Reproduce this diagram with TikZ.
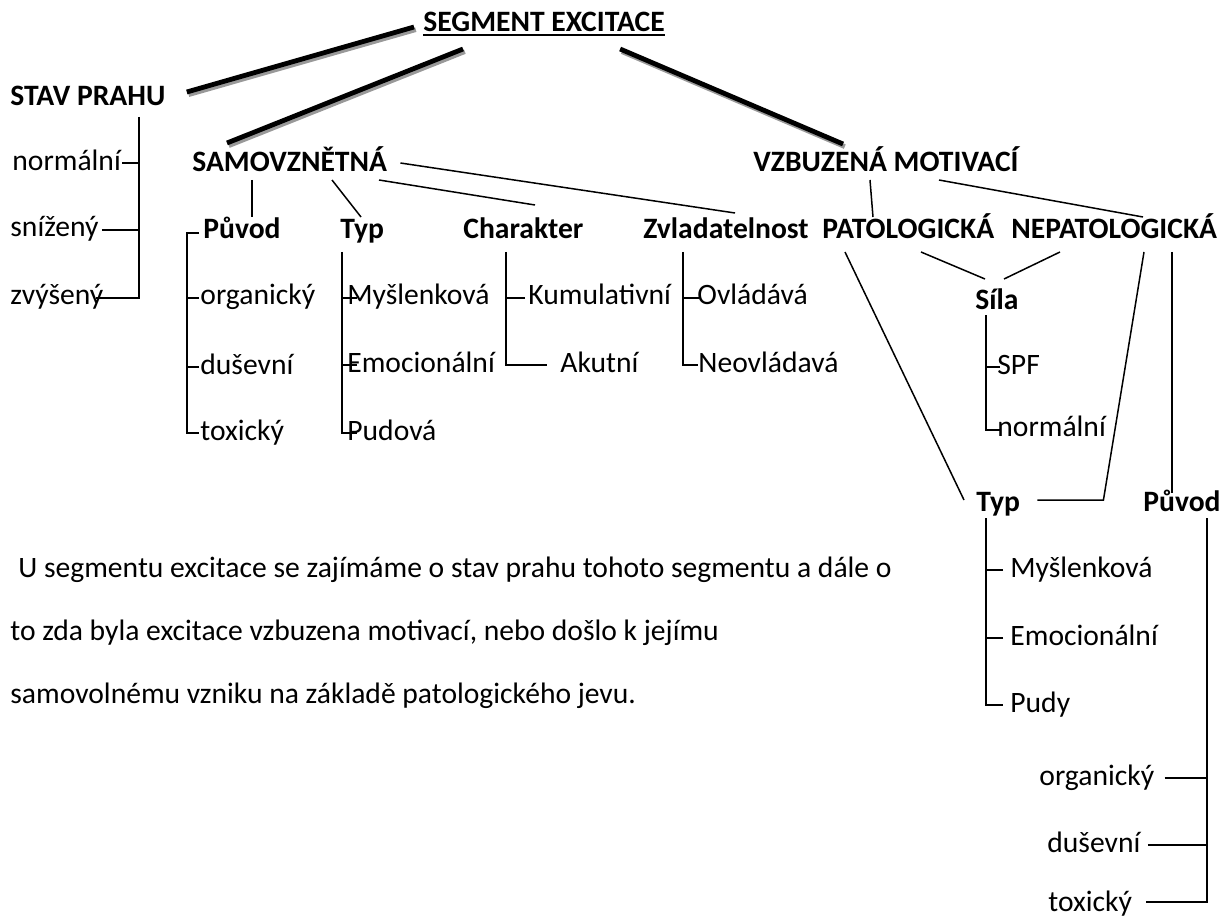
\documentclass[tikz,border=0pt]{standalone}
\usepackage{fontspec}
\setmainfont{Carlito}
\usetikzlibrary{calc}
\tikzset{
  txt/.style={anchor=base west, inner sep=0pt, font=\fontsize{14.8}{17}\selectfont},
  hd/.style={txt, font=\fontsize{14.8}{17}\selectfont\bfseries},
  branch/.style={line width=0.75pt},
  trunk/.style={line width=2.4pt, preaction={draw=black!40, line width=2.4pt, transform canvas={shift={(0.9pt,-1.3pt)}}}}
}
\begin{document}
\begin{tikzpicture}[x=0.5pt, y=-0.5pt]
  \useasboundingbox (0,0) rectangle (1228,920);
  \node[hd] (seg) at (423,32) {SEGMENT EXCITACE};
  \node[hd] (stav) at (10,106) {STAV PRAHU};
  \node[hd] (samo) at (192,172) {SAMOVZNĚTNÁ};
  \node[hd] (vzb) at (753,172) {VZBUZENÁ MOTIVACÍ};
  \node[txt] (norA) at (12,170) {normální};
  \node[txt] (sniA) at (10,237) {snížený};
  \node[txt] (zvyA) at (10,305) {zvýšený};
  \node[hd] (puvA) at (203,239) {Původ};
  \node[hd] (typA) at (340,239) {Typ};
  \node[hd] (charA) at (463,239) {Charakter};
  \node[hd] (zvlA) at (643,239) {Zvladatelnost};
  \node[hd] (patA) at (822,239) {PATOLOGICKÁ};
  \node[hd] (nepA) at (1011,239) {NEPATOLOGICKÁ};
  \node[txt] (orgA) at (200,305) {organický};
  \node[txt] (dusA) at (200,374) {duševní};
  \node[txt] (toxA) at (200,440) {toxický};
  \node[txt] (mysA) at (347,305) {Myšlenková};
  \node[txt] (emoA) at (347,372) {Emocionální};
  \node[txt] (pudA) at (347,440) {Pudová};
  \node[txt] (kumA) at (528,305) {Kumulativní};
  \node[txt] (akuA) at (560,372) {Akutní};
  \node[txt] (ovlA) at (697,305) {Ovládává};
  \node[txt] (neoA) at (698,372) {Neovládavá};
  \node[hd] (sila) at (975,309) {Síla};
  \node[txt] (spfA) at (997,374) {SPF};
  \node[txt] (norB) at (997,437) {normální};
  \node[hd] (typB) at (976,511) {Typ};
  \node[hd] (puvB) at (1143,511) {Původ};
  \node[txt] (mysB) at (1010,577) {Myšlenková};
  \node[txt] (emoB) at (1010,645) {Emocionální};
  \node[txt] (pudB) at (1010,712) {Pudy};
  \node[txt] (orgB) at (1039,785) {organický};
  \node[txt] (dusB) at (1047,852) {duševní};
  \node[txt] (toxB) at (1048,911) {toxický};
  \node[txt] (txt1) at (18,577) {U segmentu excitace se zajímáme o stav prahu tohoto segmentu a dále o};
  \node[txt] (txt2) at (10,640) {to zda byla excitace vzbuzena motivací, nebo došlo k jejímu};
  \node[txt] (txt3) at (10,703) {samovolnému vzniku na základě patologického jevu.};
  \draw[line width=1pt] ($(seg.base west)+(0,3)$) -- ($(seg.base east)+(0,3)$);
  \draw[trunk] ($(stav.base east)+(21,-14)$) -- ($(seg.base west)+(-9,-5)$);
  \draw[trunk] ($(samo.base west)+(35,-29)$) -- ($(seg.base west)+(40,17)$);
  \draw[trunk] ($(seg.base east)+(-45,17)$) -- ($(vzb.base west)+(90,-28)$);
  \draw[branch] ($(samo.base west)+(60,8)$) -- ($(puvA.base west)+(49,-22)$);
  \draw[branch] ($(samo.base west)+(140,8)$) -- ($(typA.base west)+(21,-22)$);
  \draw[branch] ($(samo.base west)+(187,8)$) -- ($(charA.base west)+(72,-34)$);
  \draw[branch] ($(samo.base east)+(13,-9)$) -- ($(zvlA.base west)+(92,-26)$);
  \draw[branch] ($(vzb.base west)+(117,8)$) -- ($(patA.base west)+(51,-22)$);
  \draw[branch] ($(vzb.base west)+(186,8)$) -- ($(nepA.base west)+(132,-22)$);
  \draw[branch] ($(patA.base west)+(99,13)$) -- ($(sila.base west)+(10,-30)$);
  \draw[branch] ($(nepA.base west)+(49,13)$) -- ($(sila.base west)+(29,-30)$);
  \draw[branch] ($(patA.base west)+(23,13)$) -- ($(typB.base west)+(-12,-11)$);
  \draw[branch] ($(nepA.base west)+(133,13)$) -- ($(typB.base east)+(83,-11)$) -- ($(typB.base east)+(17,-11)$);
  \draw[branch] ($(nepA.base west)+(161,13)$) -- ($(puvB.base west)+(29,-18)$);
  \coordinate (stavspine) at ($(stav.base west)+(129,11)$);
  \draw[branch] (stavspine) |- ($(zvyA.base east)+(-8,-7)$);
  \draw[branch] ($(norA.base east)+(1,-7)$) -| (stavspine);
  \draw[branch] ($(sniA.base east)+(3,-7)$) -| (stavspine);
  \coordinate (puvAspine) at ($(puvA.base west)+(-16,-6)$);
  \draw[branch] ($(puvA.base west)+(-4,-6)$) -- (puvAspine) |- ($(toxA.base west)+(-1,-7)$);
  \draw[branch] ($(orgA.base west)+(-1,-7)$) -| (puvAspine);
  \draw[branch] ($(dusA.base west)+(-1,-7)$) -| (puvAspine);
  \coordinate (typAspine) at ($(typA.base west)+(2,13)$);
  \draw[branch] (typAspine) |- ($(pudA.base west)+(10,-7)$);
  \draw[branch] ($(mysA.base west)+(10,-7)$) -| (typAspine);
  \draw[branch] ($(emoA.base west)+(10,-7)$) -| (typAspine);
  \coordinate (charAspine) at ($(charA.base west)+(43,13)$);
  \draw[branch] (charAspine) |- ($(akuA.base west)+(-13,-7)$);
  \draw[branch] ($(kumA.base west)+(-3,-7)$) -| (charAspine);
  \coordinate (zvlAspine) at ($(zvlA.base west)+(40,13)$);
  \draw[branch] (zvlAspine) |- ($(neoA.base west)+(0,-7)$);
  \draw[branch] ($(ovlA.base west)+(2,-7)$) -| (zvlAspine);
  \coordinate (silaspine) at ($(sila.base west)+(11,6)$);
  \draw[branch] (silaspine) |- ($(norB.base west)+(3,-7)$);
  \draw[branch] ($(spfA.base west)+(3,-7)$) -| (silaspine);
  \coordinate (typBspine) at ($(typB.base west)+(10,7)$);
  \draw[branch] (typBspine) |- ($(pudB.base west)+(-7,-7)$);
  \draw[branch] ($(mysB.base west)+(-7,-7)$) -| (typBspine);
  \draw[branch] ($(emoB.base west)+(-7,-7)$) -| (typBspine);
  \coordinate (puvBspine) at ($(puvB.base west)+(64,7)$);
  \draw[branch] (puvBspine) |- ($(toxB.base east)+(14,-9)$);
  \draw[branch] ($(orgB.base east)+(10,-7)$) -| (puvBspine);
  \draw[branch] ($(dusB.base east)+(7,-7)$) -| (puvBspine);
\end{tikzpicture}
\end{document}
